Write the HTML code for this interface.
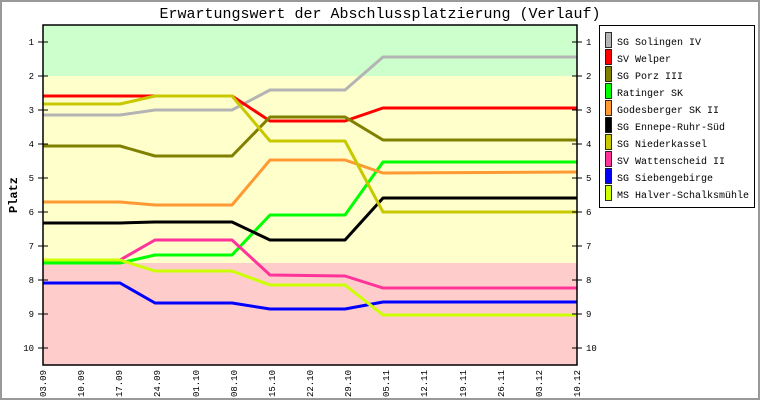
<!DOCTYPE html>
<html><head><meta charset="utf-8"><style>body{margin:0;background:#fff}svg{display:block}</style></head><body>
<svg width="760" height="400" xmlns="http://www.w3.org/2000/svg" font-family="Liberation Mono, monospace">
<rect x="1" y="1" width="758" height="398" fill="#fff" stroke="#999" stroke-width="2"/>
<text x="380" y="18" text-anchor="middle" font-size="15">Erwartungswert der Abschlussplatzierung (Verlauf)</text>
<rect x="43" y="25" width="534" height="51" fill="#ccffcc"/>
<rect x="43" y="76" width="534" height="187" fill="#ffffcc"/>
<rect x="43" y="263" width="534" height="102" fill="#ffcccc"/>
<g fill="none" stroke-width="3" stroke-linejoin="round">
<polyline stroke="#b4b4b4" points="43,115 120,115 155,110 232,110 270,90 345,90 383,57 577,57"/>
<polyline stroke="#ff0000" points="43,96 232,96 270,121 345,121 383,108 577,108"/>
<polyline stroke="#808000" points="43,146 120,146 155,156 232,156 270,117 345,117 383,140 577,140"/>
<polyline stroke="#00ff00" points="43,263 120,263 155,255 232,255 270,215 345,215 383,162 577,162"/>
<polyline stroke="#ff9933" points="43,202 120,202 155,205 232,205 270,160 345,160 383,173 577,172"/>
<polyline stroke="#000000" points="43,223 120,223 155,222 232,222 270,240 345,240 383,198 577,198"/>
<polyline stroke="#c8c800" points="43,104 120,104 155,96 232,96 270,141 345,141 383,212 577,212"/>
<polyline stroke="#ff3399" points="43,260 120,260 155,240 232,240 270,275 345,276 383,288 577,288"/>
<polyline stroke="#0000ff" points="43,283 120,283 155,303 232,303 270,309 345,309 383,302 577,302"/>
<polyline stroke="#ccff00" points="43,260 120,260 155,271 232,271 270,285 345,285 383,315 577,315"/>
</g>
<rect x="43" y="25" width="534" height="340" fill="none" stroke="#000" stroke-width="1.5"/>
<g stroke="#000" stroke-width="1">
<path d="M38,42h10M38,76h10M38,110h10M38,144h10M38,178h10M38,212h10M38,246h10M38,280h10M38,314h10M38,348h10"/>
<path d="M572,42h10M572,76h10M572,110h10M572,144h10M572,178h10M572,212h10M572,246h10M572,280h10M572,314h10M572,348h10"/>
</g>
<g font-size="9" text-anchor="end">
<text x="34" y="45">1</text><text x="34" y="79">2</text><text x="34" y="113">3</text><text x="34" y="147">4</text><text x="34" y="181">5</text><text x="34" y="215">6</text><text x="34" y="249">7</text><text x="34" y="283">8</text><text x="34" y="317">9</text><text x="34" y="351">10</text>
</g>
<g font-size="9">
<text x="586" y="45">1</text><text x="586" y="79">2</text><text x="586" y="113">3</text><text x="586" y="147">4</text><text x="586" y="181">5</text><text x="586" y="215">6</text><text x="586" y="249">7</text><text x="586" y="283">8</text><text x="586" y="317">9</text><text x="586" y="351">10</text>
</g>
<text transform="translate(17,195) rotate(-90)" text-anchor="middle" font-size="12" font-weight="bold">Platz</text>
<g font-size="9" text-anchor="end">
<text transform="translate(46,370) rotate(-90)">03.09</text>
<text transform="translate(84,370) rotate(-90)">10.09</text>
<text transform="translate(122,370) rotate(-90)">17.09</text>
<text transform="translate(160,370) rotate(-90)">24.09</text>
<text transform="translate(199,370) rotate(-90)">01.10</text>
<text transform="translate(237,370) rotate(-90)">08.10</text>
<text transform="translate(275,370) rotate(-90)">15.10</text>
<text transform="translate(313,370) rotate(-90)">22.10</text>
<text transform="translate(351,370) rotate(-90)">29.10</text>
<text transform="translate(389,370) rotate(-90)">05.11</text>
<text transform="translate(427,370) rotate(-90)">12.11</text>
<text transform="translate(466,370) rotate(-90)">19.11</text>
<text transform="translate(504,370) rotate(-90)">26.11</text>
<text transform="translate(542,370) rotate(-90)">03.12</text>
<text transform="translate(580,370) rotate(-90)">10.12</text>
</g>
<rect x="599.5" y="25.5" width="155" height="182" fill="#fff" stroke="#000"/>
<g stroke="#000" stroke-width="0.8">
<rect x="605.5" y="32.5" width="6" height="15" fill="#b4b4b4"/>
<rect x="605.5" y="49.5" width="6" height="15" fill="#ff0000"/>
<rect x="605.5" y="66.5" width="6" height="15" fill="#808000"/>
<rect x="605.5" y="83.5" width="6" height="15" fill="#00ff00"/>
<rect x="605.5" y="100.5" width="6" height="15" fill="#ff9933"/>
<rect x="605.5" y="117.5" width="6" height="15" fill="#000000"/>
<rect x="605.5" y="134.5" width="6" height="15" fill="#c8c800"/>
<rect x="605.5" y="151.5" width="6" height="15" fill="#ff3399"/>
<rect x="605.5" y="168.5" width="6" height="15" fill="#0000ff"/>
<rect x="605.5" y="185.5" width="6" height="15" fill="#ccff00"/>
</g>
<g font-size="10">
<text x="617" y="45">SG Solingen IV</text>
<text x="617" y="62">SV Welper</text>
<text x="617" y="79">SG Porz III</text>
<text x="617" y="96">Ratinger SK</text>
<text x="617" y="113">Godesberger SK II</text>
<text x="617" y="130">SG Ennepe-Ruhr-Süd</text>
<text x="617" y="147">SG Niederkassel</text>
<text x="617" y="164">SV Wattenscheid II</text>
<text x="617" y="181">SG Siebengebirge</text>
<text x="617" y="198">MS Halver-Schalksmühle</text>
</g>
</svg>
</body></html>
